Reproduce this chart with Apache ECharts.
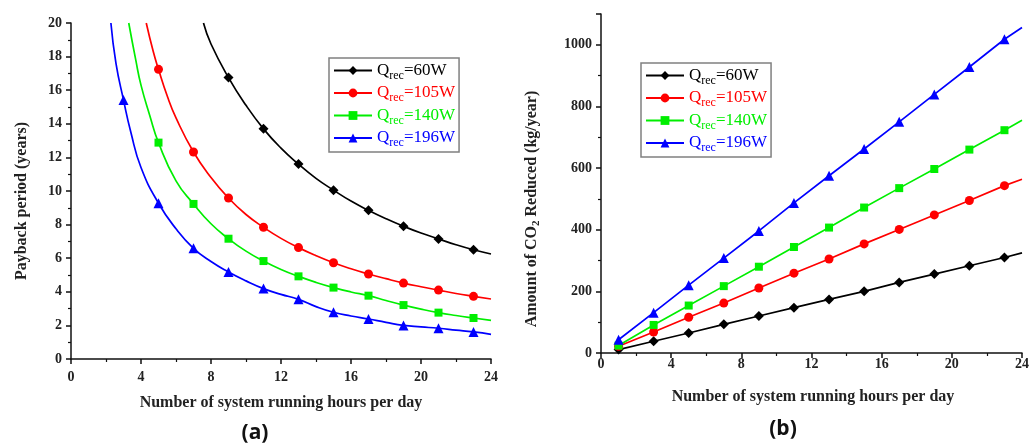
<!DOCTYPE html>
<html>
<head>
<meta charset="utf-8">
<script src="https://cdn.jsdelivr.net/npm/echarts@6/dist/echarts.min.js"></script>
<style>
html,body{margin:0;padding:0;background:#fff;}
#chart{width:1032px;height:445px;}
</style>
</head>
<body>
<div id="chart"></div>
<script>
// ---------- data ----------
const seriesNames = ['Qrec=60W', 'Qrec=105W', 'Qrec=140W', 'Qrec=196W'];
const seriesColors = ['#000000', '#ff0000', '#00ee00', '#0000ff'];
const seriesSymbols = ['diamond', 'circle', 'rect', 'triangle'];

// (a) payback period (years) vs running hours
const payback60 = [[7.57,20],[8,18.75],[9,16.75],[10,15.1],[11,13.7],[12,12.55],[13,11.6],[14,10.75],[15,10.05],[16,9.4],[17,8.85],[18,8.35],[19,7.9],[20,7.5],[21,7.15],[22,6.8],[23,6.5],[24,6.25]];
const payback105 = [[4.3,20],[4.7,18.3],[5,17.24],[5.5,15.65],[6,14.35],[7,12.32],[8,10.8],[9,9.58],[10,8.6],[11,7.84],[12,7.18],[13,6.63],[14,6.15],[15,5.73],[16,5.37],[17,5.06],[18,4.78],[19,4.52],[20,4.3],[21,4.1],[22,3.9],[23,3.73],[24,3.57]];
const payback140 = [[3.3,20],[3.7,17.8],[4,16.3],[4.5,14.5],[5,12.88],[6,10.6],[7,9.23],[8,8.05],[9,7.16],[10,6.42],[11,5.83],[12,5.33],[13,4.92],[14,4.56],[15,4.25],[16,3.99],[17,3.77],[18,3.48],[19,3.21],[20,2.97],[21,2.76],[22,2.59],[23,2.44],[24,2.3]];
const payback196 = [[2.28,20],[2.57,17.6],[3,15.42],[3.42,13.5],[4,11.4],[5,9.27],[6,7.75],[7,6.59],[8,5.8],[9,5.18],[10,4.65],[11,4.19],[12,3.85],[13,3.55],[14,3.12],[15,2.78],[16,2.56],[17,2.38],[18,2.18],[19,2.0],[20,1.91],[21,1.83],[22,1.72],[23,1.61],[24,1.47]];
const markerHours = [1,3,5,7,9,11,13,15,17,19,21,23];

// (b) CO2 reduced (kg/year) vs running hours
const co2Hours = [1,3,5,7,9,11,13,15,17,19,21,23,24];
const co2_60  = [11,38,65,93,120,147,174,200,229,256,283,310,325];
const co2_105 = [22,68,116,162,211,259,305,354,401,448,495,543,564];
const co2_140 = [24,91,154,217,280,344,407,472,535,597,660,723,755];
const co2_196 = [43,131,220,308,396,487,575,662,750,839,928,1018,1056];

const xTickLabels = [0,4,8,12,16,20,24];
const paybackTicks = [0,2,4,6,8,10,12,14,16,18,20];
const co2Ticks = [0,200,400,600,800,1000];

// ---------- chart ----------
const chart = echarts.init(document.getElementById('chart'));
const SERIF = '"Liberation Serif", "Times New Roman", serif';
const axisColor = '#111';

function mkAxisCommon(min, max, interval, labelMargin, labelFmt) {
  return {
    type: 'value', min: min, max: max, interval: interval,
    axisLine: { show: true, lineStyle: { color: axisColor, width: 1.5 } },
    axisTick: { show: true, inside: false, length: 5, lineStyle: { color: axisColor, width: 1.5 } },
    minorTick: { show: true, splitNumber: 2, length: 3, lineStyle: { color: axisColor, width: 1.2 } },
    splitLine: { show: false },
    axisLabel: { margin: labelMargin, fontFamily: SERIF, fontWeight: 'bold', fontSize: 14, color: '#222',
      formatter: labelFmt || (v => String(v)) }
  };
}

const paybackData = [payback60, payback105, payback140, payback196];
const co2Data = [co2_60, co2_105, co2_140, co2_196];
const symSizes = [10, 9, 8, 10];

const series = [];
paybackData.forEach((arr, i) => {
  series.push({
    name: seriesNames[i], type: 'line', xAxisIndex: 0, yAxisIndex: 0,
    smooth: 0.5,
    symbol: seriesSymbols[i], symbolSize: symSizes[i],
    itemStyle: { color: seriesColors[i] },
    lineStyle: { color: seriesColors[i], width: 1.7 },
    data: arr.map(p => markerHours.indexOf(p[0]) >= 0 ? { value: p } : { value: p, symbol: 'none' }),
    animation: false, z: 3
  });
});
co2Data.forEach((arr, i) => {
  series.push({
    name: seriesNames[i], type: 'line', xAxisIndex: 1, yAxisIndex: 1,
    symbol: seriesSymbols[i], symbolSize: symSizes[i],
    itemStyle: { color: seriesColors[i] },
    lineStyle: { color: seriesColors[i], width: 1.7 },
    data: co2Hours.map((h, k) => markerHours.indexOf(h) >= 0 ? { value: [h, arr[k]] } : { value: [h, arr[k]], symbol: 'none' }),
    animation: false, z: 3
  });
});

const rich = {};
seriesColors.forEach((c, i) => {
  rich['q' + i] = { fontFamily: SERIF, fontSize: 17, color: c, lineHeight: 22, verticalAlign: 'middle' };
  rich['s' + i] = { fontFamily: SERIF, fontSize: 12, color: c, lineHeight: 8, verticalAlign: 'bottom' };
});
function legendFmt(name) {
  const i = seriesNames.indexOf(name);
  return '{q' + i + '|Q}{s' + i + '|rec}{q' + i + '|' + name.replace('Qrec', '') + '}';
}
function mkLegend(left, top) {
  return {
    left: left, top: top, orient: 'vertical',
    padding: [4, 4, 3, 4], itemGap: 3, itemWidth: 38, itemHeight: 11, itemTextGap: 2,
    borderColor: '#808080', borderWidth: 1.5, backgroundColor: '#fff',
    data: seriesNames, formatter: legendFmt,
    textStyle: { rich: rich }, selectedMode: false
  };
}

const titleFont = 'bold 16px ' + SERIF;
chart.setOption({
  animation: false,
  backgroundColor: '#fff',
  grid: [
    { left: 71, top: 23, width: 420, height: 336, containLabel: false },
    { left: 601, top: 14, width: 424, height: 339, containLabel: false }
  ],
  xAxis: [
    Object.assign(mkAxisCommon(0, 24, 4, 11), { gridIndex: 0 }),
    Object.assign(mkAxisCommon(0, 24, 4, 4), { gridIndex: 1 })
  ],
  yAxis: [
    Object.assign(mkAxisCommon(0, 20, 2, 9), { gridIndex: 0 }),
    Object.assign(mkAxisCommon(0, 1100, 200, 9, v => (v > 1000 ? '' : String(v))), { gridIndex: 1 })
  ],
  legend: [mkLegend(329, 58), mkLegend(641, 63)],
  series: series,
  graphic: [
    { type: 'text', x: 281, y: 403, style: { text: 'Number of system running hours per day', font: titleFont, fill: '#222', textAlign: 'center', textVerticalAlign: 'middle' } },
    { type: 'text', x: 813, y: 397, style: { text: 'Number of system running hours per day', font: titleFont, fill: '#222', textAlign: 'center', textVerticalAlign: 'middle' } },
    { type: 'text', x: 22, y: 201, rotation: Math.PI / 2, style: { text: 'Payback period (years)', font: titleFont, fill: '#222', textAlign: 'center', textVerticalAlign: 'middle' } },
    { type: 'text', x: 532, y: 209, rotation: Math.PI / 2, style: {
        text: '{a|Amount of CO}{b|2}{a| Reduced (kg/year)}',
        rich: {
          a: { fontFamily: SERIF, fontWeight: 'bold', fontSize: 16, fill: '#222', lineHeight: 20, verticalAlign: 'middle' },
          b: { fontFamily: SERIF, fontWeight: 'bold', fontSize: 11, fill: '#222', lineHeight: 8, verticalAlign: 'bottom' }
        },
        textAlign: 'center', textVerticalAlign: 'middle' } },
    { type: 'text', x: 255, y: 433, style: { text: '(a)', font: 'bold 21px "Open Sans", "Liberation Sans", sans-serif', fill: '#111', textAlign: 'center', textVerticalAlign: 'middle' } },
    { type: 'text', x: 783, y: 429, style: { text: '(b)', font: 'bold 21px "Open Sans", "Liberation Sans", sans-serif', fill: '#111', textAlign: 'center', textVerticalAlign: 'middle' } }
  ]
});
</script>
</body>
</html>
